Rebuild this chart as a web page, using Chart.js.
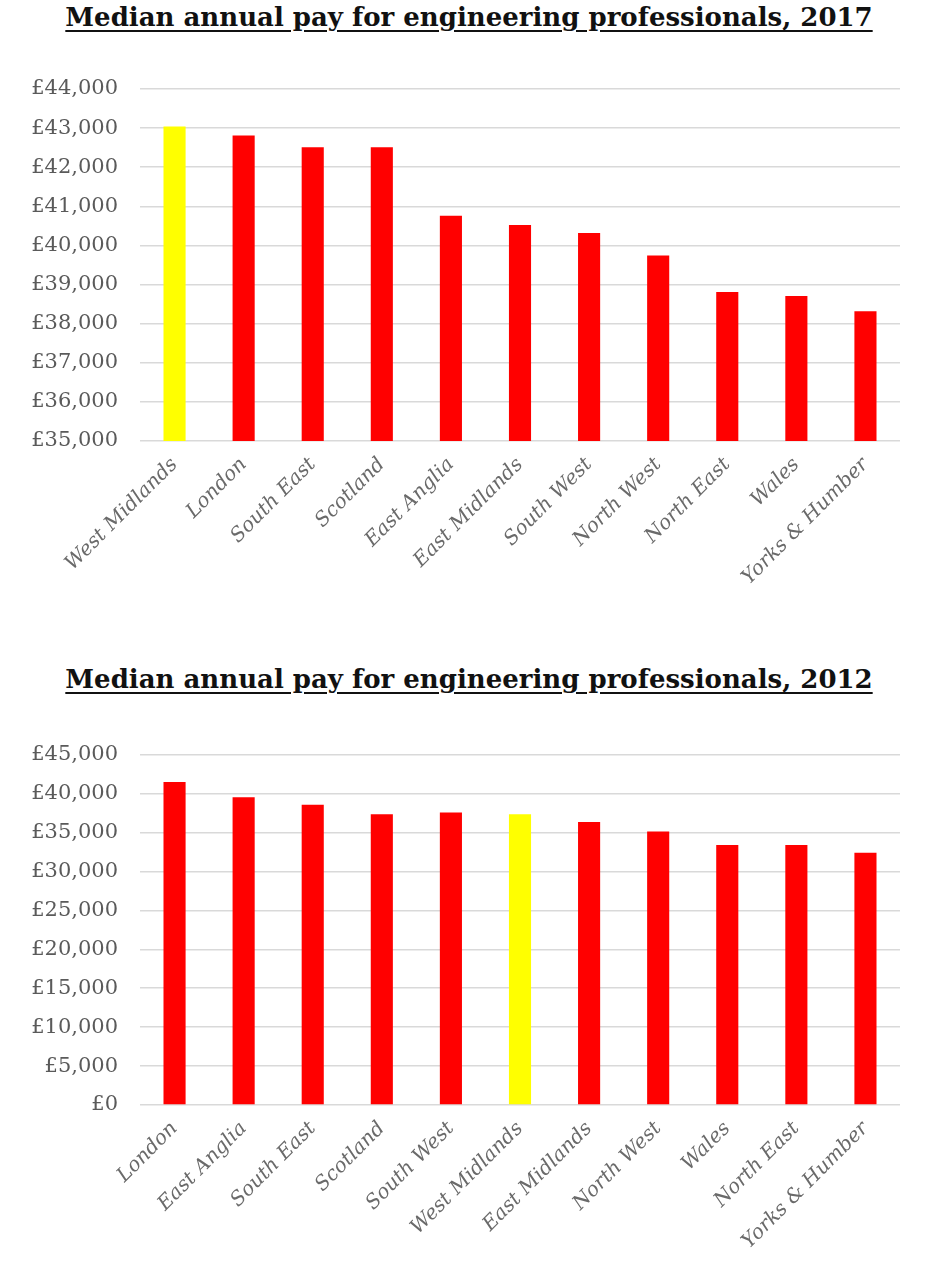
<!DOCTYPE html>
<html>
<head>
<meta charset="utf-8">
<script src="https://cdn.jsdelivr.net/npm/chart.js@4/dist/chart.umd.min.js"></script>
<style>
    body { margin: 0; background: #ffffff; }
    #page { position: relative; width: 940px; height: 1271px; overflow: hidden; }
    .title {
        position: absolute; left: 0; width: 938px; text-align: center;
        font-family: 'DejaVu Serif', serif; font-weight: bold; font-size: 26px;
        color: #111111; text-decoration: underline; text-underline-offset: 4px;
        text-decoration-thickness: 2px; letter-spacing: 0px;
    }
    .box { position: absolute; left: 0; width: 940px; }
</style>
</head>
<body>
<div id="page">
    <div class="title" style="top: 2px;">Median annual pay for engineering professionals, 2017</div>
    <div class="box" style="top: 50px; height: 560px;"><canvas id="chart-2017"></canvas></div>
    <div class="title" style="top: 664px;">Median annual pay for engineering professionals, 2012</div>
    <div class="box" style="top: 720px; height: 551px;"><canvas id="chart-2012"></canvas></div>
</div>
<script>

const regions2017 = ['West Midlands', 'London', 'South East', 'Scotland', 'East Anglia', 'East Midlands',
    'South West', 'North West', 'North East', 'Wales', 'Yorks & Humber'];

const pay2017 = [43040, 42810, 42510, 42510, 40760, 40520, 40320, 39740, 38810, 38710, 38320];

const regions2012 = ['London', 'East Anglia', 'South East', 'Scotland', 'South West', 'West Midlands',
    'East Midlands', 'North West', 'Wales', 'North East', 'Yorks & Humber'];

const pay2012 = [41470, 39510, 38570, 37340, 37550, 37340, 36360, 35130, 33390, 33390, 32410];

const yTicks2017 = { min: 35000, max: 44000, step: 1000 };

const yTicks2012 = { min: 0, max: 45000, step: 5000 };

const highlight = 'West Midlands';

const gridColor = '#d9d9d9';

const poundFormat = value => '£' + Number(value).toLocaleString('en-GB');

const makeChart = (canvasId, regions, pay, yTicks, padTop, xHeight) => {

    const colors = regions.map(region => region === highlight ? '#ffff00' : '#ff0000');

    return new Chart(document.getElementById(canvasId).getContext('2d'), {

        type: 'bar',
        data: {
            labels: regions,
            datasets: [{
                data: pay,
                backgroundColor: colors,
                borderWidth: 0,
                barPercentage: 0.32,
                categoryPercentage: 1
            }]
        },
        options: {
            responsive: true,
            maintainAspectRatio: false,
            animation: false,
            layout: { padding: { top: padTop, right: 40, left: 0, bottom: 0 } },
            plugins: {
                legend: { display: false },
                tooltip: { enabled: false }
            },
            scales: {
                x: {
                    grid: { display: false },
                    border: { display: false },
                    afterFit: scale => { scale.height = xHeight; },
                    ticks: {
                        autoSkip: false,
                        minRotation: 45,
                        maxRotation: 45,
                        padding: 4,
                        color: '#6a6a6a',
                        font: { family: 'DejaVu Serif', style: 'italic', size: 20 }
                    }
                },
                y: {
                    min: yTicks.min,
                    max: yTicks.max,
                    grid: { color: gridColor, lineWidth: 1.5, drawTicks: false },
                    border: { display: false },
                    afterFit: scale => { scale.width = 140; },
                    ticks: {
                        stepSize: yTicks.step,
                        padding: 22,
                        color: '#5a5a5a',
                        font: { family: 'DejaVu Serif', size: 21 },
                        callback: poundFormat
                    }
                }
            }
        }

    });

};

makeChart('chart-2017', regions2017, pay2017, yTicks2017, 39, 169);

makeChart('chart-2012', regions2012, pay2012, yTicks2012, 32, 166);

</script>
</body>
</html>
